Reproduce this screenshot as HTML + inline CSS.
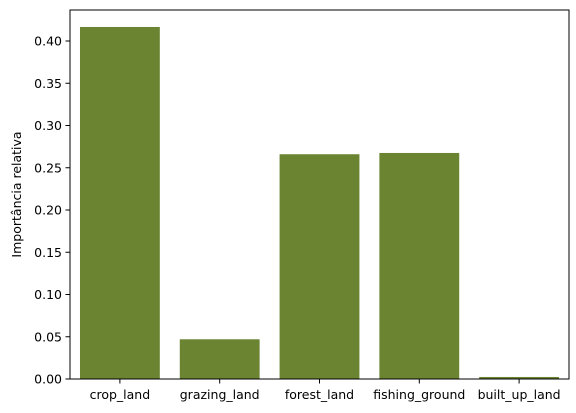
<!DOCTYPE html>
<html><head><meta charset="utf-8"><style>
body{margin:0;background:#fff;}
svg{display:block;font-family:"DejaVu Sans","Liberation Sans",sans-serif;}
</style></head><body>
<svg id="chart" width="576" height="413" xmlns="http://www.w3.org/2000/svg"></svg>
<script>
const categories=["crop_land","grazing_land","forest_land","fishing_ground","built_up_land"];
const values=[0.4166,0.047,0.266,0.2675,0.0024];
const yTicks=[0,0.05,0.10,0.15,0.20,0.25,0.30,0.35,0.40];
const yTickLabels=["0.00","0.05","0.10","0.15","0.20","0.25","0.30","0.35","0.40"];
const NS="http://www.w3.org/2000/svg";
const svg=document.getElementById('chart');
const L=70,R=569,T=10,B=379,yMax=(B-T)/845;
const y=v=>B-(v/yMax)*(B-T);
const band=(R-L)/categories.length;
const x=i=>L+band*i;
function mk(t,a){const e=document.createElementNS(NS,t);for(const k in a)e.setAttribute(k,a[k]);svg.appendChild(e);return e;}
values.forEach((v,i)=>{
 const r=mk('rect',{x:x(i)+band*0.1,y:y(v),width:band*0.8,height:B-y(v),fill:'#6a8432'});
 
 
});
const fr=mk('rect',{x:L,y:T,width:R-L,height:B-T,fill:'none',stroke:'#000','stroke-width':1});


yTicks.forEach((v,i)=>{
 mk('line',{x1:L-4.5,x2:L,y1:y(v),y2:y(v),stroke:'#000','stroke-width':1});
 const t=mk('text',{x:L-8,y:y(v)+4.5,'text-anchor':'end','font-size':12.5});
 t.textContent=yTickLabels[i];
 
 
});
categories.forEach((c,i)=>{
 const cx=x(i)+band/2;
 mk('line',{x1:cx,x2:cx,y1:B,y2:B+4.5,stroke:'#000','stroke-width':1});
 const t=mk('text',{x:cx,y:B+20,'text-anchor':'middle','font-size':12.5});
 t.textContent=c;
 
 
});
const yt=mk('text',{x:21,y:(T+B)/2,'text-anchor':'middle','font-size':12.5,transform:'rotate(-90 21 '+((T+B)/2)+')'});
yt.textContent='Importância relativa';


</script>
</body></html>
